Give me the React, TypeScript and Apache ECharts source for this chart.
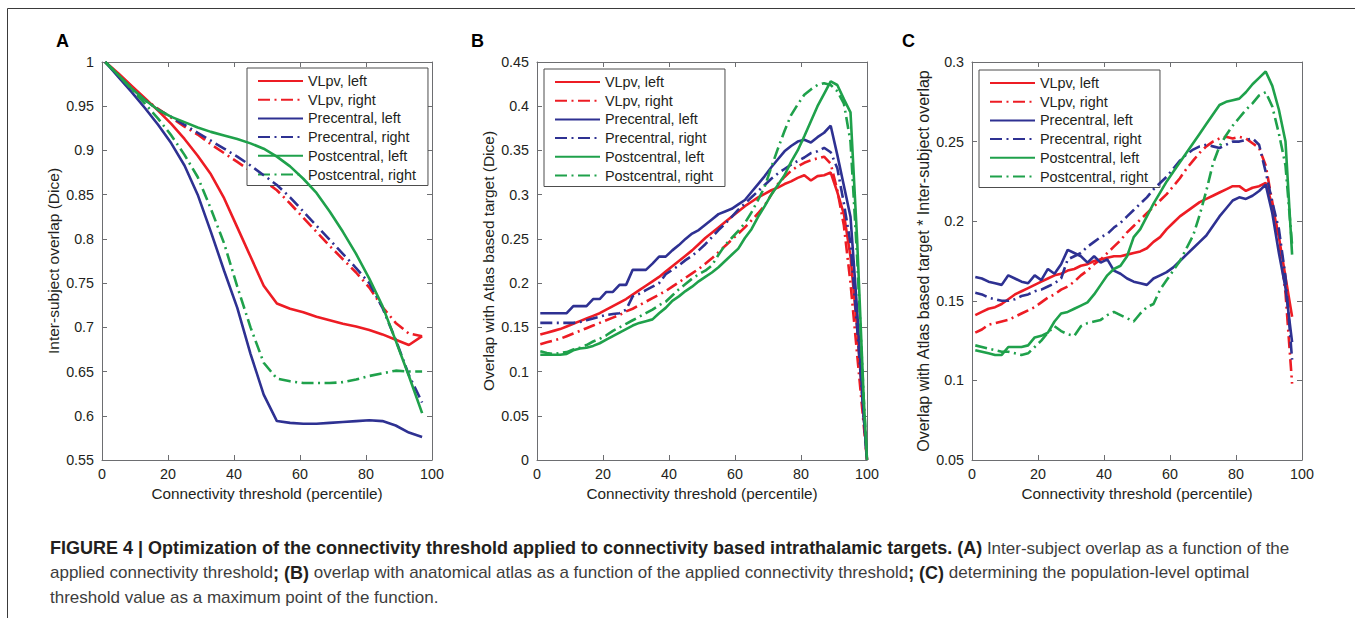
import React, { useEffect, useRef } from "react";
import * as echarts from "echarts";

// ---------- data ----------
const SERIES_NAMES = [
  "VLpv, left",
  "VLpv, right",
  "Precentral, left",
  "Precentral, right",
  "Postcentral, left",
  "Postcentral, right",
];

const PANEL_LETTERS = ["A", "B", "C"];
const X_AXIS_NAME = "Connectivity threshold (percentile)";
const Y_AXIS_NAMES = [
  "Inter-subject overlap (Dice)",
  "Overlap with Atlas based target (Dice)",
  "Overlap with Atlas based target * Inter-subject overlap",
];
const Y_RANGES = [
  [0.55, 1],
  [0, 0.45],
  [0.05, 0.3],
];

// Panel A: inter-subject overlap
const X_A = [1, 5, 9, 13, 17, 21, 25, 29, 33, 37, 41, 45, 49, 53, 57, 61, 65, 69, 73, 77, 81, 85, 89, 93, 97];
const A_VL_L = [1.0, 0.987, 0.973, 0.959, 0.945, 0.93, 0.913, 0.894, 0.873, 0.846, 0.813, 0.78, 0.747, 0.727, 0.721, 0.717, 0.712, 0.708, 0.704, 0.701, 0.697, 0.692, 0.686, 0.68, 0.69];
const A_VL_R = [1.0, 0.986, 0.972, 0.958, 0.947, 0.937, 0.927, 0.918, 0.907, 0.897, 0.887, 0.877, 0.866, 0.855, 0.84, 0.824, 0.808, 0.792, 0.777, 0.762, 0.745, 0.723, 0.705, 0.693, 0.69];
const A_PR_L = [1.0, 0.983, 0.966, 0.948, 0.929, 0.908, 0.883, 0.85, 0.808, 0.764, 0.722, 0.67, 0.624, 0.594, 0.592, 0.591, 0.591, 0.592, 0.593, 0.594, 0.595, 0.594, 0.589, 0.581, 0.576];
const A_PR_R = [1.0, 0.985, 0.97, 0.957, 0.946, 0.938, 0.929, 0.92, 0.911, 0.902, 0.893, 0.883, 0.872, 0.861, 0.847, 0.831, 0.815, 0.799, 0.783, 0.767, 0.75, 0.722, 0.686, 0.646, 0.615];
const A_PO_L = [1.0, 0.985, 0.97, 0.957, 0.946, 0.938, 0.932, 0.926, 0.921, 0.917, 0.913, 0.908, 0.902, 0.893, 0.882, 0.868, 0.852, 0.831, 0.808, 0.783, 0.755, 0.724, 0.685, 0.645, 0.603];
const A_PO_R = [1.0, 0.985, 0.969, 0.953, 0.936, 0.917, 0.895, 0.87, 0.834, 0.795, 0.746, 0.7, 0.66, 0.642, 0.639, 0.637, 0.637, 0.637, 0.638, 0.641, 0.645, 0.648, 0.651, 0.65, 0.65];

// Panel B: overlap with atlas based target
const X_B = [1, 3, 5, 7, 9, 11, 13, 15, 17, 19, 21, 23, 25, 27, 29, 31, 33, 35, 37, 39, 41, 43, 45, 47, 49, 51, 53, 55, 57, 59, 61, 63, 65, 67, 69, 71, 73, 75, 77, 79, 81, 83, 85, 87, 89, 91, 93, 95, 97, 99, 100];
const B_VL_L = [0.142, 0.144, 0.146, 0.148, 0.151, 0.154, 0.157, 0.16, 0.163, 0.166, 0.17, 0.174, 0.178, 0.182, 0.187, 0.192, 0.197, 0.202, 0.207, 0.213, 0.219, 0.225, 0.231, 0.237, 0.244, 0.251, 0.257, 0.263, 0.269, 0.275, 0.281, 0.287, 0.292, 0.297, 0.301, 0.305, 0.308, 0.312, 0.315, 0.319, 0.322, 0.316, 0.321, 0.322, 0.325, 0.303, 0.278, 0.23, 0.15, 0.05, 0];
const B_VL_R = [0.131, 0.133, 0.135, 0.137, 0.14, 0.143, 0.146, 0.149, 0.152, 0.155, 0.158, 0.161, 0.164, 0.168, 0.171, 0.175, 0.179, 0.183, 0.187, 0.191, 0.196, 0.201, 0.206, 0.211, 0.216, 0.222, 0.228, 0.235, 0.242, 0.249, 0.256, 0.263, 0.271, 0.279, 0.288, 0.3, 0.312, 0.32, 0.327, 0.332, 0.336, 0.339, 0.341, 0.343, 0.335, 0.305, 0.265, 0.2, 0.12, 0.04, 0];
const B_PR_L = [0.166, 0.166, 0.166, 0.166, 0.166, 0.174, 0.174, 0.174, 0.182, 0.182, 0.19, 0.19, 0.198, 0.198, 0.215, 0.215, 0.215, 0.222, 0.23, 0.23, 0.237, 0.243, 0.25, 0.256, 0.26, 0.266, 0.272, 0.278, 0.281, 0.284, 0.289, 0.294, 0.303, 0.312, 0.321, 0.331, 0.34, 0.349, 0.355, 0.36, 0.362, 0.359, 0.365, 0.37, 0.378, 0.345, 0.31, 0.275, 0.17, 0.05, 0];
const B_PR_R = [0.155, 0.155, 0.155, 0.155, 0.155, 0.155, 0.156, 0.158, 0.16, 0.162, 0.164, 0.165, 0.166, 0.17, 0.185, 0.188, 0.192, 0.196, 0.2, 0.21, 0.215, 0.22, 0.226, 0.231, 0.237, 0.244, 0.252, 0.26, 0.267, 0.275, 0.283, 0.29, 0.297, 0.304, 0.311, 0.318, 0.324, 0.329, 0.334, 0.338, 0.342, 0.347, 0.349, 0.353, 0.348, 0.33, 0.29, 0.245, 0.15, 0.05, 0];
const B_PO_L = [0.119, 0.119, 0.119, 0.119, 0.12, 0.124, 0.126, 0.127, 0.129, 0.132, 0.136, 0.14, 0.144, 0.148, 0.152, 0.155, 0.157, 0.159, 0.166, 0.172, 0.18, 0.185, 0.191, 0.196, 0.202, 0.207, 0.212, 0.218, 0.225, 0.232, 0.239, 0.251, 0.261, 0.275, 0.287, 0.3, 0.311, 0.322, 0.337, 0.35, 0.366, 0.383, 0.4, 0.414, 0.428, 0.424, 0.408, 0.393, 0.25, 0.07, 0];
const B_PO_R = [0.123, 0.121, 0.12, 0.121, 0.122, 0.125, 0.127, 0.13, 0.134, 0.137, 0.141, 0.146, 0.15, 0.154, 0.158, 0.162, 0.166, 0.17, 0.175, 0.179, 0.186, 0.193, 0.199, 0.205, 0.21, 0.214, 0.22, 0.232, 0.243, 0.251, 0.259, 0.268, 0.28, 0.294, 0.309, 0.331, 0.352, 0.372, 0.39, 0.402, 0.413, 0.419, 0.424, 0.426, 0.424, 0.417, 0.403, 0.36, 0.23, 0.07, 0];

// Panel C: product of both
const X_C = [1, 3, 5, 7, 9, 11, 13, 15, 17, 19, 21, 23, 25, 27, 29, 31, 33, 35, 37, 39, 41, 43, 45, 47, 49, 51, 53, 55, 57, 59, 61, 63, 65, 67, 69, 71, 73, 75, 77, 79, 81, 83, 85, 87, 89, 91, 93, 95, 97];
const C_VL_L = [0.141, 0.143, 0.145, 0.146, 0.148, 0.151, 0.154, 0.156, 0.158, 0.16, 0.162, 0.164, 0.166, 0.167, 0.169, 0.17, 0.172, 0.173, 0.175, 0.176, 0.177, 0.178, 0.178, 0.179, 0.18, 0.181, 0.183, 0.187, 0.19, 0.195, 0.199, 0.203, 0.206, 0.209, 0.212, 0.214, 0.216, 0.218, 0.22, 0.222, 0.222, 0.219, 0.221, 0.222, 0.224, 0.21, 0.19, 0.165, 0.14];
const C_VL_R = [0.13, 0.132, 0.135, 0.136, 0.137, 0.138, 0.14, 0.142, 0.144, 0.146, 0.149, 0.152, 0.154, 0.157, 0.159, 0.162, 0.166, 0.169, 0.173, 0.176, 0.18, 0.184, 0.188, 0.193, 0.197, 0.201, 0.205, 0.209, 0.213, 0.217, 0.222, 0.227, 0.233, 0.238, 0.243, 0.247, 0.25, 0.252, 0.253, 0.252, 0.253, 0.252, 0.249, 0.246, 0.235, 0.212, 0.188, 0.155, 0.098];
const C_PR_L = [0.165, 0.164, 0.162, 0.161, 0.16, 0.166, 0.164, 0.162, 0.161, 0.166, 0.163, 0.17, 0.167, 0.173, 0.182, 0.18, 0.178, 0.174, 0.178, 0.174, 0.176, 0.169, 0.167, 0.164, 0.162, 0.161, 0.16, 0.164, 0.166, 0.168, 0.171, 0.175, 0.179, 0.183, 0.187, 0.191, 0.197, 0.203, 0.208, 0.213, 0.215, 0.214, 0.216, 0.219, 0.223, 0.205, 0.18, 0.158, 0.124];
const C_PR_R = [0.155, 0.154, 0.152, 0.151, 0.15, 0.15, 0.151, 0.153, 0.154, 0.156, 0.157, 0.159, 0.161, 0.164, 0.176, 0.178, 0.18, 0.184, 0.187, 0.19, 0.192, 0.196, 0.199, 0.203, 0.207, 0.211, 0.215, 0.22, 0.224, 0.228, 0.233, 0.238, 0.242, 0.245, 0.247, 0.248, 0.247, 0.246, 0.248, 0.25, 0.25, 0.251, 0.252, 0.248, 0.231, 0.212, 0.195, 0.165, 0.113];
const C_PO_L = [0.119, 0.118, 0.117, 0.116, 0.116, 0.121, 0.121, 0.121, 0.122, 0.127, 0.128, 0.13, 0.137, 0.142, 0.143, 0.145, 0.147, 0.149, 0.154, 0.16, 0.166, 0.17, 0.172, 0.178, 0.19, 0.195, 0.203, 0.211, 0.218, 0.225, 0.231, 0.237, 0.243, 0.249, 0.255, 0.261, 0.267, 0.273, 0.275, 0.276, 0.277, 0.281, 0.286, 0.29, 0.294, 0.285, 0.27, 0.25, 0.179];
const C_PO_R = [0.122, 0.121, 0.12, 0.119, 0.118, 0.118, 0.117, 0.116, 0.117, 0.121, 0.125, 0.13, 0.134, 0.131, 0.129, 0.128, 0.134, 0.136, 0.137, 0.138, 0.141, 0.143, 0.141, 0.139, 0.137, 0.142, 0.146, 0.148, 0.157, 0.163, 0.169, 0.175, 0.183, 0.191, 0.204, 0.219, 0.236, 0.247, 0.254, 0.26, 0.265, 0.27, 0.274, 0.279, 0.281, 0.272, 0.255, 0.235, 0.185];

const PANEL_X = [X_A, X_B, X_C];
const PANEL_VALUES = [
  [A_VL_L, A_VL_R, A_PR_L, A_PR_R, A_PO_L, A_PO_R],
  [B_VL_L, B_VL_R, B_PR_L, B_PR_R, B_PO_L, B_PO_R],
  [C_VL_L, C_VL_R, C_PR_L, C_PR_R, C_PO_L, C_PO_R],
];

const CAPTION_LINES = [
  "{b|FIGURE 4 | Optimization of the connectivity threshold applied to connectivity based intrathalamic targets. (A)}{n| Inter-subject overlap as a function of the}",
  "{n|applied connectivity threshold}{b|; (B)}{n| overlap with anatomical atlas as a function of the applied connectivity threshold}{b|; (C)}{n| determining the population-level optimal}",
  "{n|threshold value as a maximum point of the function.}",
];

// ---------- styles ----------
const FONT = '"Liberation Sans", Arial, Helvetica, sans-serif';
const TEXT = "#231f20";
const AXIS = "#6d6e71";
const COLORS = ["#ed1c24", "#ed1c24", "#2e3192", "#2e3192", "#1fa14b", "#1fa14b"];
const DASHED = [false, true, false, true, false, true];
const DASH_DOT = [12, 4.5, 2, 4.5];
const GRID_LEFT = [102, 537, 972];
const LEGEND_POS = [
  [247, 68],
  [544, 69],
  [979, 70],
];
const LETTER_X = [56, 471, 902];
const CAPTION_Y = [548, 572.5, 597];

const fmt = (v: number) => String(parseFloat(Number(v).toFixed(3)));

function buildOption() {
  const grid = GRID_LEFT.map((l) => ({ left: l, top: 62, width: 330, height: 398 }));
  const lineStyleAxis = { color: AXIS, width: 1 };
  const xAxis: any[] = [];
  const yAxis: any[] = [];
  for (let p = 0; p < 3; p++) {
    xAxis.push({
      type: "value",
      gridIndex: p,
      position: "bottom",
      min: 0,
      max: 100,
      interval: 20,
      axisLine: { show: true, onZero: false, lineStyle: lineStyleAxis },
      axisTick: { show: true, inside: true, length: 5, lineStyle: lineStyleAxis },
      axisLabel: { fontSize: 14.3, color: TEXT, fontFamily: FONT, margin: 7, formatter: fmt },
      splitLine: { show: false },
      name: X_AXIS_NAME,
      nameLocation: "middle",
      nameGap: 24,
      nameTextStyle: { fontSize: 15.3, color: TEXT, fontFamily: FONT },
    });
    xAxis.push({
      type: "value",
      gridIndex: p,
      position: "top",
      min: 0,
      max: 100,
      interval: 20,
      axisLine: { show: true, onZero: false, lineStyle: lineStyleAxis },
      axisTick: { show: true, inside: true, length: 5, lineStyle: lineStyleAxis },
      axisLabel: { show: false },
      splitLine: { show: false },
    });
    const [mn, mx] = Y_RANGES[p];
    yAxis.push({
      type: "value",
      gridIndex: p,
      position: "left",
      min: mn,
      max: mx,
      interval: 0.05,
      axisLine: { show: true, onZero: false, lineStyle: lineStyleAxis },
      axisTick: { show: true, inside: true, length: 5, lineStyle: lineStyleAxis },
      axisLabel: { fontSize: 14.3, color: TEXT, fontFamily: FONT, margin: 8, formatter: fmt },
      splitLine: { show: false },
      name: Y_AXIS_NAMES[p],
      nameLocation: "middle",
      nameGap: 41,
      nameRotate: 90,
      nameTextStyle: { fontSize: p === 2 ? 16 : 15.5, color: TEXT, fontFamily: FONT },
    });
    yAxis.push({
      type: "value",
      gridIndex: p,
      position: "right",
      min: mn,
      max: mx,
      interval: 0.05,
      axisLine: { show: true, onZero: false, lineStyle: lineStyleAxis },
      axisTick: { show: true, inside: true, length: 5, lineStyle: lineStyleAxis },
      axisLabel: { show: false },
      splitLine: { show: false },
    });
  }

  const series: any[] = [];
  for (let p = 0; p < 3; p++) {
    const xs = PANEL_X[p];
    PANEL_VALUES[p].forEach((vals, s) => {
      series.push({
        type: "line",
        name: SERIES_NAMES[s],
        xAxisIndex: p * 2,
        yAxisIndex: p * 2,
        data: xs.map((x, k) => [x, vals[k]]),
        symbol: "none",
        smooth: false,
        lineStyle: {
          color: COLORS[s],
          width: 2.6,
          type: DASHED[s] ? DASH_DOT : "solid",
          cap: "butt",
        },
        itemStyle: { color: COLORS[s] },
        emphasis: { disabled: true },
        z: 2 + s,
      });
    });
  }

  const legend = LEGEND_POS.map(([l, t]) => ({
    data: SERIES_NAMES,
    orient: "vertical",
    left: l,
    top: t,
    itemWidth: 45,
    itemHeight: 14,
    itemGap: 4.7,
    padding: [6, 12, 4, 10],
    borderColor: "#4d4d4d",
    borderWidth: 1,
    backgroundColor: "#ffffff",
    selectedMode: false,
    itemStyle: { opacity: 0, borderWidth: 0 },
    textStyle: { fontSize: 14.4, color: TEXT, fontFamily: FONT },
  }));

  const graphic: any[] = [
    { type: "line", shape: { x1: 7.5, y1: 8.5, x2: 1355, y2: 8.5 }, style: { stroke: "#3a3a3a", lineWidth: 1 } },
    { type: "line", shape: { x1: 7.5, y1: 8.5, x2: 7.5, y2: 618 }, style: { stroke: "#3a3a3a", lineWidth: 1 } },
  ];
  PANEL_LETTERS.forEach((L, i) => {
    graphic.push({
      type: "text",
      left: LETTER_X[i],
      top: 32,
      style: { text: L, fontSize: 18, fontWeight: "bold", fill: "#000", fontFamily: FONT },
    });
  });
  const capRich = {
    b: { fontSize: 18, fontWeight: "bold", fill: "#231f20", color: "#231f20", fontFamily: FONT },
    n: { fontSize: 17, fontWeight: "normal", fill: "#3d3d3d", color: "#3d3d3d", fontFamily: FONT },
  };
  CAPTION_LINES.forEach((line, i) => {
    graphic.push({
      type: "text",
      x: 50,
      y: CAPTION_Y[i],
      style: {
        text: line,
        rich: capRich,
        fontFamily: FONT,
        fontSize: 17,
        align: "left",
        verticalAlign: "middle",
      },
    });
  });

  return {
    animation: false,
    backgroundColor: "#ffffff",
    grid,
    xAxis,
    yAxis,
    legend,
    series,
    graphic,
  };
}

export default function App() {
  const ref = useRef<HTMLDivElement>(null);
  useEffect(() => {
    if (!ref.current) return;
    const chart = echarts.init(ref.current, undefined, { renderer: "svg" });
    chart.setOption(buildOption() as any);
    return () => chart.dispose();
  }, []);
  return (
    <div
      ref={ref}
      style={{ position: "absolute", left: 0, top: 0, width: 1355, height: 618, background: "#fff" }}
    />
  );
}
